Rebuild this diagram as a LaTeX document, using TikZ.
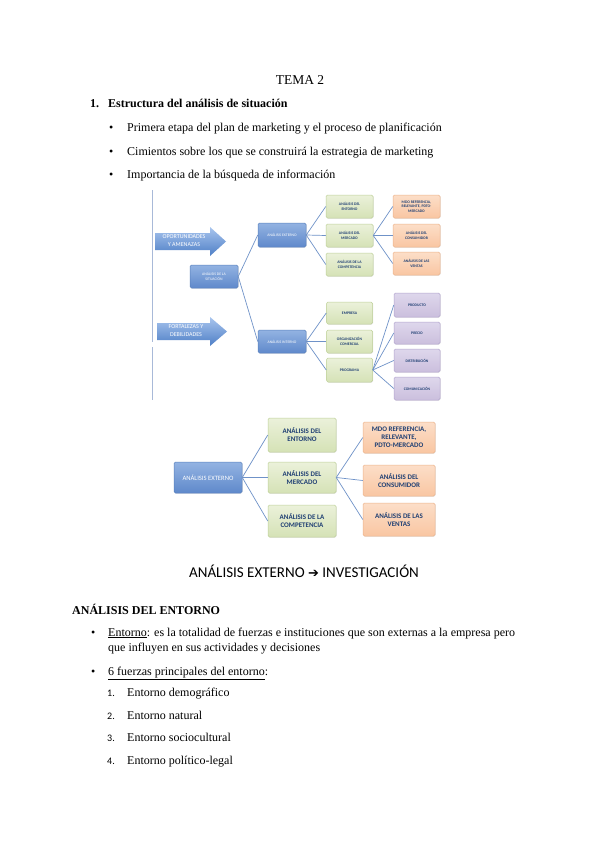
\documentclass[tikz,border=0pt]{standalone}
\usepackage{fontspec}
\setmainfont{Liberation Serif}
\newfontfamily\calfont{Carlito}
\newfontfamily\djvfont{DejaVu Sans}
\usetikzlibrary{shadows}
\definecolor{blueA}{HTML}{93B3E2}
\definecolor{blueB}{HTML}{5F89CB}
\definecolor{blueD}{HTML}{5A82BE}
\definecolor{greenA}{HTML}{EBF1DA}
\definecolor{greenB}{HTML}{D5E2B6}
\definecolor{greenD}{HTML}{BFD199}
\definecolor{oraA}{HTML}{FCDEC8}
\definecolor{oraB}{HTML}{F9C6A2}
\definecolor{oraD}{HTML}{EDB48C}
\definecolor{purA}{HTML}{DED7EC}
\definecolor{purB}{HTML}{CBBFDD}
\definecolor{purD}{HTML}{B3A5CF}
\definecolor{txtc}{HTML}{1F3F73}
\definecolor{linec}{HTML}{6F92C8}
\definecolor{vline}{HTML}{A8B9D8}
\definecolor{arrA}{HTML}{A9C5EE}
\definecolor{arrB}{HTML}{4E7FC6}
\tikzset{
  box/.style={rounded corners=1.5pt, align=center, inner sep=0pt, line width=0.5pt,
    drop shadow={shadow xshift=0.6pt, shadow yshift=-0.6pt, opacity=0.25}},
  bluebox/.style={box, top color=blueA, bottom color=blueB, draw=blueD, text=white},
  greenbox/.style={box, top color=greenA, bottom color=greenB, draw=greenD, text=txtc},
  orabox/.style={box, top color=oraA, bottom color=oraB, draw=oraD, text=txtc},
  purbox/.style={box, top color=purA, bottom color=purB, draw=purD, text=txtc},
  tiny/.style={font=\calfont\bfseries\fontsize{3.8}{4.4}\selectfont},
  tinyreg/.style={font=\calfont\fontsize{3.8}{4.4}\selectfont},
  small/.style={font=\calfont\bfseries\fontsize{7}{8}\selectfont},
  conn/.style={draw=linec, line width=0.7pt},
  body/.style={anchor=base west, inner sep=0pt, font=\fontsize{12}{14}\selectfont},
  bodyb/.style={body, font=\bfseries\fontsize{12}{14}\selectfont},
  num/.style={anchor=base west, inner sep=0pt, font=\calfont\fontsize{10}{12}\selectfont},
  arrowtxt/.style={align=center, inner sep=0pt, text=white, font=\calfont\fontsize{6}{7.4}\selectfont},
}
\begin{document}
\begin{tikzpicture}[x=1pt,y=-1pt]
\useasboundingbox[fill=white] (0,0) rectangle (599,848);

% ---------- header text ----------
\node[anchor=base, inner sep=0pt, font=\fontsize{13.5}{15}\selectfont] (tema) at (300,84.5) {TEMA 2};
\node[bodyb] (n1) at (90,107.5) {1.};
\node[bodyb] (h1) at (108,107.5) {Estructura del análisis de situación};
\node[body] (b1) at (109,131.5) {•};
\node[body] (t1) at (127,131.5) {Primera etapa del plan de marketing y el proceso de planificación};
\node[body] (b2) at (109,155) {•};
\node[body] (t2) at (127,155) {Cimientos sobre los que se construirá la estrategia de marketing};
\node[body] (b3) at (109,178.5) {•};
\node[body] (t3) at (127,178.5) {Importancia de la búsqueda de información};

% ---------- diagram 1 ----------
\coordinate (v1) at (152,190); \coordinate (v2) at (152,342);
\coordinate (v3) at (152,347); \coordinate (v4) at (152,400);
\draw[vline, line width=1pt] (v1) -- (v2);
\draw[vline, line width=1pt] (v3) -- (v4);

\shade[top color=arrA, bottom color=arrB]
  (155,233) -- (210,233) -- (210,227) -- (226,241.5) -- (210,256) -- (210,250) -- (155,250) -- cycle;
\node[arrowtxt] (oa) at (184,240.5) {OPORTUNIDADES\\Y AMENAZAS};
\shade[top color=arrA, bottom color=arrB]
  (157,323) -- (210,323) -- (210,317) -- (227,331.5) -- (210,346) -- (210,340) -- (157,340) -- cycle;
\node[arrowtxt] (fd) at (186,330.5) {FORTALEZAS Y\\DEBILIDADES};

\node[bluebox, tinyreg, minimum width=48pt, minimum height=23pt] (sit) at (214,276.5) {ANÁLISIS DE LA\\SITUACIÓN};
\node[bluebox, tinyreg, minimum width=48pt, minimum height=24pt] (ext) at (282,235) {ANÁLISIS EXTERNO};
\node[bluebox, tinyreg, minimum width=48pt, minimum height=23pt] (int) at (282,341.5) {ANÁLISIS INTERNO};

\node[greenbox, tiny, minimum width=47pt, minimum height=23pt] (ent1) at (349.5,206.5) {ANÁLISIS DEL\\ENTORNO};
\node[greenbox, tiny, minimum width=47pt, minimum height=23pt] (mer1) at (349.5,235.5) {ANÁLISIS DEL\\MERCADO};
\node[greenbox, tiny, minimum width=47pt, minimum height=23pt] (com1) at (349.5,264.5) {ANÁLISIS DE LA\\COMPETENCIA};
\node[orabox, tiny, minimum width=47pt, minimum height=23pt] (mdo1) at (416.5,206.5) {MDO REFERENCIA,\\RELEVANTE, PDTO-\\MERCADO};
\node[orabox, tiny, minimum width=47pt, minimum height=23pt] (con1) at (416.5,235.5) {ANÁLISIS DEL\\CONSUMIDOR};
\node[orabox, tiny, minimum width=47pt, minimum height=23pt] (ven1) at (416.5,263.5) {ANÁLISIS DE LAS\\VENTAS};

\node[greenbox, tiny, minimum width=46pt, minimum height=22pt] (emp) at (349.5,313) {EMPRESA};
\node[greenbox, tiny, minimum width=46pt, minimum height=23pt] (org) at (349.5,341.5) {ORGANIZACIÓN\\COMERCIAL};
\node[greenbox, tiny, minimum width=46pt, minimum height=24pt] (prog) at (349.5,370) {PROGRAMA};
\node[purbox, tiny, minimum width=46pt, minimum height=24pt] (prod) at (417,305) {PRODUCTO};
\node[purbox, tiny, minimum width=46pt, minimum height=22pt] (prec) at (417,333) {PRECIO};
\node[purbox, tiny, minimum width=46pt, minimum height=23pt] (dist) at (417,360.5) {DISTRIBUCIÓN};
\node[purbox, tiny, minimum width=46pt, minimum height=23pt] (comu) at (417,388.5) {COMUNICACIÓN};

\draw[conn] (sit.east) -- (ext.west);
\draw[conn] (sit.east) -- (int.west);
\foreach \c in {ent1,mer1,com1} \draw[conn] (ext.east) -- (\c.west);
\foreach \c in {mdo1,con1,ven1} \draw[conn] (mer1.east) -- (\c.west);
\foreach \c in {emp,org,prog} \draw[conn] (int.east) -- (\c.west);
\foreach \c in {prod,prec,dist,comu} \draw[conn] (prog.east) -- (\c.west);

% ---------- diagram 2 ----------
\node[bluebox, font=\calfont\fontsize{6.6}{8}\selectfont, minimum width=68pt, minimum height=31pt] (ext2) at (208,477.5) {ANÁLISIS EXTERNO};
\node[greenbox, small, minimum width=68pt, minimum height=34pt] (ent2) at (302,435) {ANÁLISIS DEL\\ENTORNO};
\node[greenbox, small, minimum width=68pt, minimum height=31pt] (mer2) at (302,477.5) {ANÁLISIS DEL\\MERCADO};
\node[greenbox, small, minimum width=68pt, minimum height=32pt] (com2) at (302,521) {ANÁLISIS DE LA\\COMPETENCIA};
\node[orabox, small, minimum width=72pt, minimum height=31pt] (mdo2) at (399,437.5) {MDO REFERENCIA,\\RELEVANTE,\\PDTO-MERCADO};
\node[orabox, small, minimum width=72pt, minimum height=31pt] (con2) at (399,480.5) {ANÁLISIS DEL\\CONSUMIDOR};
\node[orabox, small, minimum width=72pt, minimum height=33pt] (ven2) at (399,519.5) {ANÁLISIS DE LAS\\VENTAS};
\foreach \c in {ent2,mer2,com2} \draw[conn] (ext2.east) -- (\c.west);
\foreach \c in {mdo2,con2,ven2} \draw[conn] (mer2.east) -- (\c.west);

% ---------- bottom text ----------
\node[anchor=base, inner sep=0pt, font=\calfont\fontsize{15}{17}\selectfont] (inv) at (304,577.5)
  {ANÁLISIS EXTERNO {\djvfont\bfseries\fontsize{13}{15}\selectfont ➔} INVESTIGACIÓN};
\node[bodyb] (h2) at (72,614) {ANÁLISIS DEL ENTORNO};
\node[body] (b4) at (91,636) {•};
\node[body] (t4) at (108,636) {\underline{Entorno}: es la totalidad de fuerzas e instituciones que son externas a la empresa pero};
\node[body] (t4b) at (108,651) {que influyen en sus actividades y decisiones};
\node[body] (b5) at (91,675) {•};
\node[body] (t5) at (108,675) {\underline{6 fuerzas principales del entorno}:};
\node[num] (n61) at (107,696) {1.};
\node[body] (e1) at (127,696) {Entorno demográfico};
\node[num] (n62) at (107,719) {2.};
\node[body] (e2) at (127,719) {Entorno natural};
\node[num] (n63) at (107,741) {3.};
\node[body] (e3) at (127,741) {Entorno sociocultural};
\node[num] (n64) at (107,764) {4.};
\node[body] (e4) at (127,764) {Entorno político-legal};
\end{tikzpicture}
\end{document}
